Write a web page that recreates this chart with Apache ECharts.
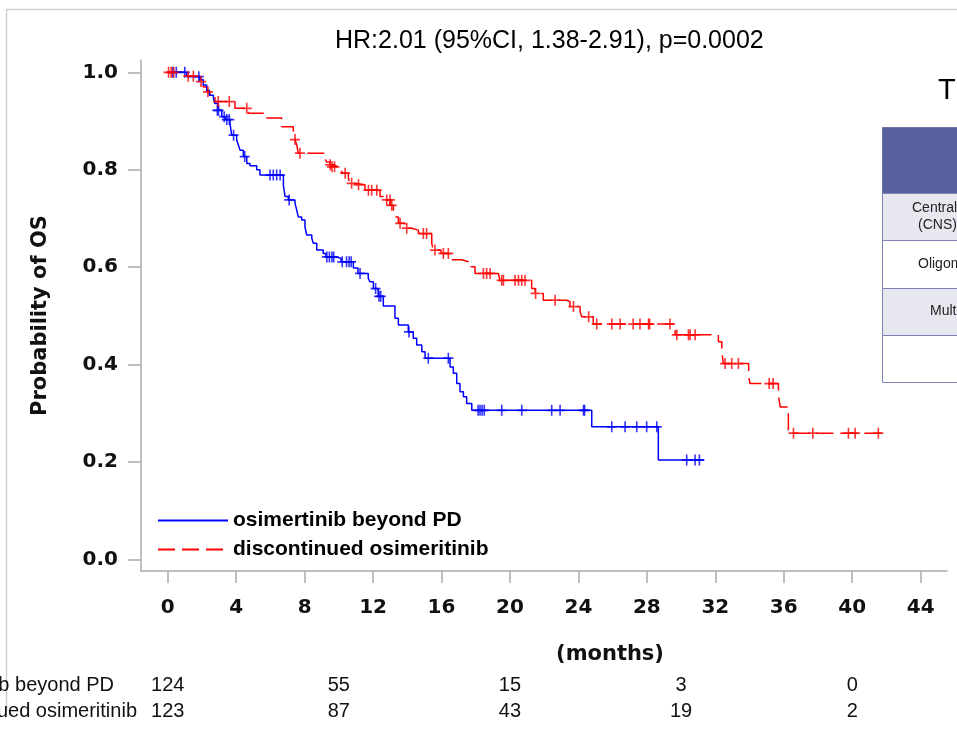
<!DOCTYPE html>
<html>
<head>
<meta charset="utf-8">
<script src="https://cdn.jsdelivr.net/npm/echarts@6/dist/echarts.min.js"></script>
<style>html,body{margin:0;padding:0;background:#fff;}#c{width:957px;height:736px;}</style>
</head>
<body>
<div id="c"></div>
<script>
// ---- data (months, survival probability) ----
const blueName = 'osimertinib beyond PD';
const redName = 'discontinued osimeritinib';
const blueSteps = [[0,1.0],[1.11,0.991],[1.89,0.985],[2.08,0.974],[2.28,0.963],[2.43,0.953],[2.67,0.947],[2.76,0.936],[2.96,0.922],[3.16,0.909],[3.35,0.903],[3.64,0.895],[3.74,0.871],[4.03,0.861],[4.13,0.851],[4.23,0.840],[4.42,0.827],[4.62,0.813],[4.81,0.808],[5.20,0.800],[5.39,0.789],[6.76,0.768],[6.86,0.745],[7.05,0.738],[7.44,0.731],[7.54,0.717],[7.63,0.703],[7.83,0.697],[8.02,0.683],[8.12,0.666],[8.42,0.659],[8.51,0.649],[8.71,0.635],[9.09,0.628],[9.25,0.621],[9.78,0.618],[10.13,0.611],[10.85,0.598],[11.12,0.587],[11.72,0.577],[11.82,0.570],[12.02,0.556],[12.30,0.540],[12.60,0.520],[13.28,0.495],[13.48,0.481],[14.06,0.467],[14.35,0.454],[14.55,0.440],[14.85,0.426],[15.04,0.413],[16.50,0.395],[16.69,0.382],[16.89,0.361],[17.08,0.344],[17.28,0.334],[17.47,0.320],[17.77,0.306],[24.78,0.272],[28.67,0.204],[31.34,0.204]];
const blueCensor = [[0.3,1.0],[0.5,1.0],[1.0,1.0],[1.82,0.991],[2.9,0.922],[2.97,0.922],[3.3,0.909],[3.45,0.903],[3.6,0.903],[3.85,0.871],[4.5,0.827],[5.98,0.789],[6.17,0.789],[6.37,0.789],[6.57,0.789],[7.1,0.738],[9.3,0.621],[9.45,0.621],[9.6,0.621],[9.7,0.621],[10.2,0.611],[10.45,0.611],[10.6,0.611],[10.72,0.611],[11.24,0.587],[12.15,0.556],[12.35,0.540],[12.45,0.540],[14.1,0.467],[15.23,0.413],[16.4,0.413],[18.14,0.306],[18.25,0.306],[18.37,0.306],[18.5,0.306],[19.52,0.306],[20.69,0.306],[22.44,0.306],[22.93,0.306],[24.3,0.306],[24.36,0.306],[25.95,0.272],[26.73,0.272],[27.41,0.272],[27.99,0.272],[28.58,0.272],[30.33,0.204],[30.82,0.204],[31.07,0.204]];
const redSteps = [[0,1.0],[1.1,0.992],[1.89,0.981],[2.08,0.970],[2.28,0.960],[2.47,0.953],[2.76,0.940],[3.93,0.926],[4.71,0.916],[5.79,0.906],[6.66,0.888],[7.34,0.881],[7.44,0.862],[7.54,0.851],[7.63,0.834],[9.19,0.823],[9.29,0.816],[9.49,0.810],[9.66,0.806],[9.97,0.803],[10.17,0.793],[10.56,0.782],[10.65,0.772],[10.95,0.769],[11.53,0.758],[12.41,0.745],[12.60,0.738],[12.99,0.727],[13.19,0.717],[13.28,0.703],[13.48,0.690],[13.87,0.680],[14.26,0.676],[14.65,0.669],[15.43,0.649],[15.52,0.635],[15.97,0.628],[16.50,0.615],[17.18,0.611],[17.57,0.601],[17.96,0.587],[19.32,0.584],[19.42,0.573],[21.27,0.556],[21.47,0.546],[21.95,0.532],[23.32,0.529],[23.51,0.519],[24.10,0.508],[24.20,0.498],[24.87,0.483],[29.65,0.461],[32.18,0.447],[32.38,0.426],[32.47,0.402],[33.95,0.375],[34.03,0.361],[35.69,0.337],[35.79,0.313],[36.27,0.259],[41.82,0.259]];
const redCensor = [[0.05,1],[0.2,1],[0.35,1],[1.2,0.992],[1.5,0.992],[1.95,0.981],[2.35,0.960],[2.95,0.940],[3.6,0.940],[4.62,0.926],[7.44,0.862],[7.73,0.834],[9.5,0.810],[9.6,0.806],[9.75,0.806],[10.37,0.793],[10.75,0.772],[11.15,0.769],[11.73,0.758],[11.92,0.758],[12.22,0.758],[12.8,0.738],[12.99,0.738],[13.09,0.727],[13.58,0.690],[13.97,0.680],[14.94,0.669],[15.13,0.669],[15.62,0.635],[16.11,0.628],[16.4,0.628],[18.45,0.587],[18.64,0.587],[18.84,0.587],[19.52,0.573],[19.62,0.573],[20.3,0.573],[20.5,0.573],[20.69,0.573],[20.88,0.573],[21.5,0.546],[22.64,0.532],[23.71,0.519],[24.6,0.498],[25.07,0.483],[25.95,0.483],[26.44,0.483],[27.2,0.483],[27.6,0.483],[28.1,0.483],[28.16,0.483],[29.35,0.483],[29.75,0.461],[30.43,0.461],[30.53,0.461],[30.82,0.461],[32.57,0.402],[32.96,0.402],[33.35,0.402],[35.15,0.361],[35.38,0.361],[36.57,0.259],[37.7,0.259],[39.78,0.259],[40.17,0.259],[41.53,0.259]];
const xTicks = [0,4,8,12,16,20,24,28,32,36,40,44];
const yTicks = [0,0.2,0.4,0.6,0.8,1.0];
const atRiskTimes = [0,10,20,30,40];
const atRiskBlue = [124,55,15,3,0];
const atRiskRed = [123,87,43,19,2];
const titleText = 'HR:2.01 (95%CI, 1.38-2.91), p=0.0002';
const tableRows = [['Central nervous system','(CNS) metastasis'],['Oligometastasis'],['Multiple metastases'],['']];

const BLUE = '#0000ff', RED = '#ff0000', AX = '#a7acb1';
const plus = 'path://M4.2,0H5.8V4.2H10V5.8H5.8V10H4.2V5.8H0V4.2H4.2Z';
const bold = 'DejaVu Sans';

const chart = echarts.init(document.getElementById('c'), null, {renderer:'canvas'});
const option = {
  animation: false,
  backgroundColor: '#fff',
  grid: {left:141, right:10, top:60, bottom:165, containLabel:false},
  legend: {
    orient:'vertical', left:152, top:505, itemWidth:70, itemHeight:12, itemGap:8,
    data:[blueName, redName],
    itemStyle:{color:'rgba(0,0,0,0)', borderWidth:0, opacity:0},
    textStyle:{fontFamily:'Liberation Sans', fontWeight:'bold', fontSize:21, color:'#000'}
  },
  xAxis: {
    type:'value', min:-1.56, max:45.54,
    axisLine:{show:true, onZero:false, lineStyle:{color:AX, width:1.5}},
    axisTick:{show:true, length:12, customValues:xTicks, lineStyle:{color:AX, width:1.5}},
    axisLabel:{customValues:xTicks, margin:27, fontFamily:bold, fontWeight:'bold', fontSize:20, color:'#111'},
    splitLine:{show:false}
  },
  yAxis: {
    type:'value', min:-0.024, max:1.0253,
    name:'Probability of OS', nameLocation:'middle', nameGap:90,
    nameTextStyle:{fontFamily:bold, fontWeight:'bold', fontSize:21, color:'#111'},
    axisLine:{show:true, onZero:false, lineStyle:{color:AX, width:1.5}},
    axisTick:{show:true, length:13, customValues:yTicks, lineStyle:{color:AX, width:1.5}},
    axisLabel:{customValues:yTicks, margin:23, formatter:v=>v.toFixed(1), fontFamily:bold, fontWeight:'bold', fontSize:20, color:'#111'},
    splitLine:{show:false}
  },
  series: [
    {name:blueName, type:'line', step:'end', data:blueSteps, symbol:'none', lineStyle:{color:BLUE, width:1.5}, itemStyle:{color:BLUE}, z:3},
    {name:redName, type:'line', step:'end', data:redSteps, symbol:'none', lineStyle:{color:RED, width:1.5, type:[17,7]}, itemStyle:{color:RED}, z:2},
    {name:'blueCensor', type:'scatter', data:blueCensor, symbol:plus, symbolSize:[10,11], itemStyle:{color:BLUE}, z:4, silent:true},
    {name:'redCensor', type:'scatter', data:redCensor, symbol:plus, symbolSize:[10,11], itemStyle:{color:RED}, z:4, silent:true}
  ]
};
chart.setOption(option);

// extra graphics (frame, annotations, table, number at risk)
const g = [];
g.push({type:'line', shape:{x1:6.5,y1:9,x2:6.5,y2:712}, style:{stroke:'#cfcfcf', lineWidth:1.5}, silent:true});
g.push({type:'line', shape:{x1:6,y1:9.5,x2:957,y2:9.5}, style:{stroke:'#cfcfcf', lineWidth:1.5}, silent:true});
g.push({type:'text', x:335, y:41, style:{text:titleText, font:'25px "Liberation Sans"', fill:'#000', verticalAlign:'middle'}});
g.push({type:'text', x:938, y:91, style:{text:'T', font:'29px "Liberation Sans"', fill:'#000', verticalAlign:'middle'}});
// table
const rowY = [127,193,240,288,335,382];
g.push({type:'rect', shape:{x:882.5,y:rowY[0]+0.5,width:90,height:rowY[1]-rowY[0]}, style:{fill:'#59619f', stroke:'#6d74aa', lineWidth:1}});
const rowFill = ['#e6e7ef','#ffffff','#e6e7ef','#ffffff'];
const textX = [[912,918],[918],[930],[930]];
for (let i=0;i<4;i++){
  g.push({type:'rect', shape:{x:882.5,y:rowY[i+1]+0.5,width:90,height:rowY[i+2]-rowY[i+1]}, style:{fill:rowFill[i], stroke:'#7e84b5', lineWidth:1}});
  const lines = tableRows[i];
  const mid = (rowY[i+1]+rowY[i+2])/2;
  lines.forEach((t,j)=>{
    const yy = lines.length===2 ? mid + (j===0?-8:9) : mid;
    g.push({type:'text', x:textX[i][j], y:yy, style:{text:t, font:'14px "Liberation Sans"', fill:'#222', verticalAlign:'middle'}});
  });
}
// x axis title
g.push({type:'text', x:610, y:655, style:{text:'(months)', font:'bold 21px "DejaVu Sans"', fill:'#111', align:'center', verticalAlign:'middle'}});
// number at risk
const narrow = '20px "Liberation Sans Narrow", "Liberation Sans"';
g.push({type:'text', x:114, y:685, style:{text:blueName, font:narrow, fill:'#111', align:'right', verticalAlign:'middle'}});
g.push({type:'text', x:137, y:711, style:{text:redName, font:narrow, fill:'#111', align:'right', verticalAlign:'middle'}});
atRiskTimes.forEach((t,i)=>{
  const px = chart.convertToPixel({xAxisIndex:0}, t);
  g.push({type:'text', x:px, y:685, style:{text:String(atRiskBlue[i]), font:narrow, fill:'#111', align:'center', verticalAlign:'middle'}});
  g.push({type:'text', x:px, y:711, style:{text:String(atRiskRed[i]), font:narrow, fill:'#111', align:'center', verticalAlign:'middle'}});
});
chart.setOption({graphic:g});
</script>
</body>
</html>
